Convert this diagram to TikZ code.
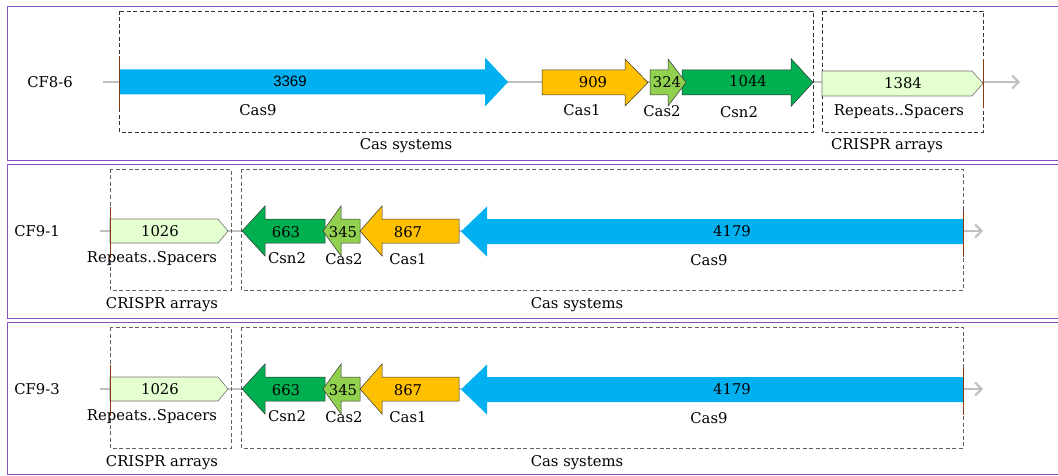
\documentclass[tikz,border=0pt]{standalone}
\usepackage{fontspec}
\setmainfont{DejaVu Serif}
\newfontfamily\numsans{Liberation Sans}
\usetikzlibrary{arrows.meta}
\definecolor{panelc}{HTML}{8A4FC0}
\definecolor{cas9c}{HTML}{00B0F0}
\definecolor{cas1c}{HTML}{FFC000}
\definecolor{cas2c}{HTML}{92D050}
\definecolor{csn2c}{HTML}{00B050}
\definecolor{repc}{HTML}{E4FFD0}
\definecolor{backc}{HTML}{C0C0C0}
\definecolor{tickc}{HTML}{8E3A10}
\newcommand{\genepath}[6]{(#1,#4-#5)--(#2,#4-#5)--(#2,#4-#6)--(#3,#4)--(#2,#4+#6)--(#2,#4+#5)--(#1,#4+#5)--cycle}
\tikzset{
  panel/.style={draw=panelc, line width=0.9pt},
  groupbox/.style={draw=black!80, dashed, dash pattern=on 4pt off 2.5pt, line width=0.9pt},
  groupboxb/.style={groupbox, draw=black!62},
  backbone/.style={draw=backc, line width=2.2pt, -{Straight Barb[length=6.5pt,width=13pt,line width=2pt]}},
  genecas9/.style={fill=cas9c},
  genecas1/.style={fill=cas1c, draw=black!80, line width=0.5pt},
  genecas2/.style={fill=cas2c, draw=black!80, line width=0.5pt},
  genecsn2/.style={fill=csn2c, draw=black!80, line width=0.5pt},
  generep/.style={fill=repc, draw=black!55, line width=0.6pt},
  tickmark/.style={draw=tickc, line width=0.6pt},
  txt/.style={font=\fontsize{14.8}{17}\selectfont, inner sep=0pt, text=black},
  num/.style={font=\fontsize{14.8}{17}\selectfont, inner sep=0pt, text=black},
}
\begin{document}
\begin{tikzpicture}[x=1pt,y=-1pt]
\useasboundingbox (0,0) rectangle (1058,476);
% ---------- panels
\draw[panel] (7,6) rectangle (1060,160);
\draw[panel] (7,164) rectangle (1060,318);
\draw[panel] (7,322) rectangle (1060,474);

% ================= Panel 1 : CF8-6
\coordinate (b1s) at (103,82);
\coordinate (b1e) at (1020,82);
\draw[backbone] (b1s) -- (b1e);
\draw[groupbox] (119,11) rectangle (813,132);
\draw[groupbox] (822,11) rectangle (983,132);
\fill[genecas9] \genepath{119}{485}{508}{82}{12.5}{24.5};
\draw[genecas1] \genepath{542}{625}{648}{82.5}{12.5}{23.5};
\draw[genecsn2] \genepath{682}{791}{813}{82.5}{12.5}{24};
\draw[genecas2] \genepath{650}{668}{686}{82.5}{12.5}{23.5};
\draw[generep] \genepath{822}{972}{983}{83.5}{12.5}{12.5};
\draw[tickmark] (119,57) -- (119,110);
\draw[tickmark] (983,59) -- (983,108);
\node[txt] (n1) at (50,82) {CF8-6};
\node[num, font=\numsans\fontsize{15}{17}\selectfont] (n1a) at (290,81) {3369};
\node[txt] (n1b) at (258,110) {Cas9};
\node[txt] (n1c) at (406,146) {Cas systems};
\node[num] (n1d) at (593,82) {909};
\node[txt] (n1e) at (582,110) {Cas1};
\node[num] (n1f) at (667,82) {324};
\node[txt] (n1g) at (662,111) {Cas2};
\node[num] (n1h) at (748,81) {1044};
\node[txt] (n1i) at (739,112) {Csn2};
\node[num] (n1j) at (903,83) {1384};
\node[txt] (n1k) at (899,112) {Repeats..Spacers};
\node[txt] (n1l) at (887,146) {CRISPR arrays};

% ================= Panels 2 and 3
\foreach \dy/\nm/\lab in {0/p2/CF9-1, 158/p3/CF9-3}{
  \begin{scope}[yshift=-\dy pt]
  \coordinate (\nm bs) at (100,231);
  \coordinate (\nm be) at (983,231);
  \draw[backbone] (\nm bs) -- (\nm be);
  \draw[groupboxb] (110,169) rectangle (231,290);
  \draw[groupboxb] (241,169) rectangle (963,290);
  \draw[generep] \genepath{110}{218}{228}{231}{12}{12};
  \draw[genecsn2] \genepath{325}{265}{242}{231}{12}{25};
  \draw[genecas2] \genepath{360}{341}{323}{231}{12}{25};
  \draw[genecas1] \genepath{459}{382}{360}{231}{12}{25};
  \fill[genecas9] \genepath{963}{487}{461}{231.5}{12.5}{25};
  \draw[tickmark] (110,207) -- (110,258);
  \draw[tickmark] (963,210) -- (963,257);
  \node[txt] (\nm a) at (37,231) {\lab};
  \node[num] (\nm b) at (160,231) {1026};
  \node[txt] (\nm c) at (152,259) {Repeats..Spacers};
  \node[txt] (\nm d) at (162,305) {CRISPR arrays};
  \node[num] (\nm e) at (286,232) {663};
  \node[txt] (\nm f) at (287,258) {Csn2};
  \node[num] (\nm g) at (343,232) {345};
  \node[txt] (\nm h) at (344,259) {Cas2};
  \node[num] (\nm i) at (408,232) {867};
  \node[txt] (\nm j) at (408,259) {Cas1};
  \node[num] (\nm k) at (732,231) {4179};
  \node[txt] (\nm l) at (709,260) {Cas9};
  \node[txt] (\nm m) at (577,305) {Cas systems};
  \end{scope}
}
\end{tikzpicture}
\end{document}
